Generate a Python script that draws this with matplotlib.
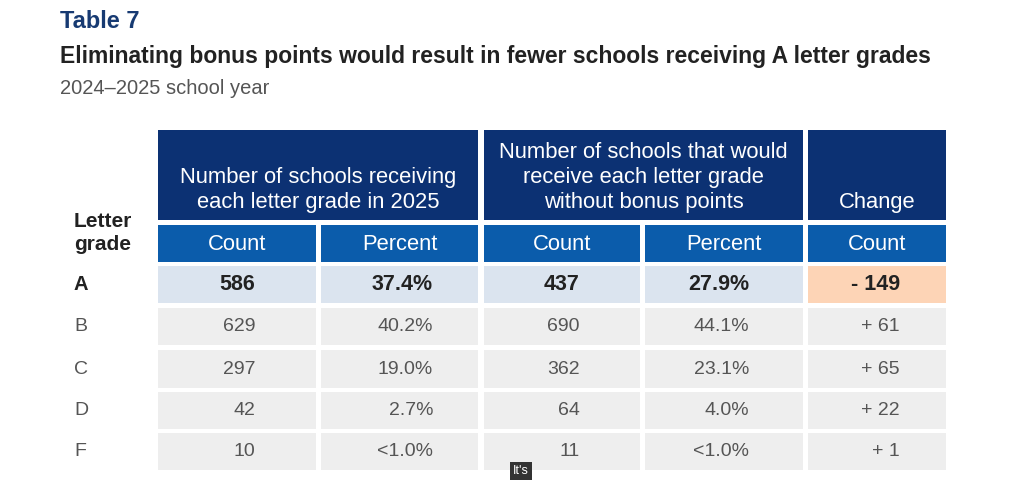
import matplotlib
matplotlib.use("Agg")
import matplotlib.pyplot as plt
from matplotlib.patches import Rectangle
from matplotlib import font_manager

# table contents
grades = ["A", "B", "C", "D", "F"]
count_2025 = ["586", "629", "297", "42", "10"]
pct_2025 = ["37.4%", "40.2%", "19.0%", "2.7%", "<1.0%"]
count_nobonus = ["437", "690", "362", "64", "11"]
pct_nobonus = ["27.9%", "44.1%", "23.1%", "4.0%", "<1.0%"]
change = ["- 149", "+ 61", "+ 65", "+ 22", "+ 1"]

group_labels = [["Number of schools receiving", "each letter grade in 2025"],
                ["Number of schools that would", "receive each letter grade", "without bonus points"],
                ["Change"]]
sub_labels = ["Count", "Percent", "Count", "Percent", "Count"]

title_small = "Table 7"
title = "Eliminating bonus points would result in fewer schools receiving A letter grades"
subtitle = "2024\u20132025 school year"

names = {f.name for f in font_manager.fontManager.ttflist}
main_font = "Liberation Sans" if "Liberation Sans" in names else "DejaVu Sans"

navy = "#0c3173"
blue = "#0b5cab"
light_blue = "#dbe4ef"
orange = "#fdd4b6"
grey = "#eeeeee"

fig = plt.figure(figsize=(10.24, 4.9), dpi=100)
ax = fig.add_axes([0, 0, 1, 1])
ax.set_xlim(0, 1024)
ax.set_ylim(490, 0)
ax.axis("off")

ax.text(60, 22, title_small, fontsize=17, fontweight="bold", color="#173a72",
        family=main_font, va="center", ha="left")
ax.text(60, 56, title, fontsize=16.45, fontweight="bold", color="#222222",
        family=main_font, va="center", ha="left")
ax.text(60, 88, subtitle, fontsize=14.5, color="#555555",
        family=main_font, va="center", ha="left")

# column layout
cols = [(158, 316), (321, 478), (484, 640), (645, 803), (808, 946)]
groups = [(158, 478), (484, 803), (808, 946)]
right_edges = [255, 433, 580, 749, 900]
rows = [(266, 303), (308, 345), (350, 388), (392, 429), (433, 470)]

for (x0, x1), lines in zip(groups, group_labels):
    ax.add_patch(Rectangle((x0, 130), x1 - x0, 90, color=navy, lw=0))
    for k, line in enumerate(reversed(lines)):
        ax.text((x0 + x1) / 2, 208 - 25 * k, line, fontsize=15.8, color="white",
                family=main_font, ha="center", va="baseline")

for (x0, x1), lab in zip(cols, sub_labels):
    ax.add_patch(Rectangle((x0, 225), x1 - x0, 37, color=blue, lw=0))
    ax.text((x0 + x1) / 2, 244, lab, fontsize=15.8, color="white", family=main_font,
            ha="center", va="center")

ax.text(74, 227, "Letter", fontsize=15, fontweight="bold", color="#222222",
        family=main_font, va="baseline")
ax.text(74, 250, "grade", fontsize=15, fontweight="bold", color="#222222",
        family=main_font, va="baseline")

columns = [count_2025, pct_2025, count_nobonus, pct_nobonus, change]
for i, g in enumerate(grades):
    y0, y1 = rows[i]
    yc = (y0 + y1) / 2
    first = i == 0
    for j, ((x0, x1), values) in enumerate(zip(cols, columns)):
        if first:
            fc = orange if j == 4 else light_blue
        else:
            fc = grey
        ax.add_patch(Rectangle((x0, y0), x1 - x0, y1 - y0, color=fc, lw=0))
        if first:
            ax.text(right_edges[j], yc, values[i], fontsize=15.5, fontweight="bold",
                    color="#222222", family=main_font, ha="right", va="center")
        else:
            ax.text(right_edges[j], yc, values[i], fontsize=14, color="#555555",
                    family=main_font, ha="right", va="center")
    if first:
        ax.text(74, yc, g, fontsize=14.5, fontweight="bold", color="#222222",
                family=main_font, va="center")
    else:
        ax.text(74, yc, g, fontsize=14, color="#555555", family=main_font, va="center")

# caption overlay from the source video
ax.text(521, 471, "It's", fontsize=9, color="white", family=main_font,
        ha="center", va="center",
        bbox=dict(boxstyle="square,pad=0.25", fc="#333333", ec="none"))

fig.savefig("out.png", dpi=100)
